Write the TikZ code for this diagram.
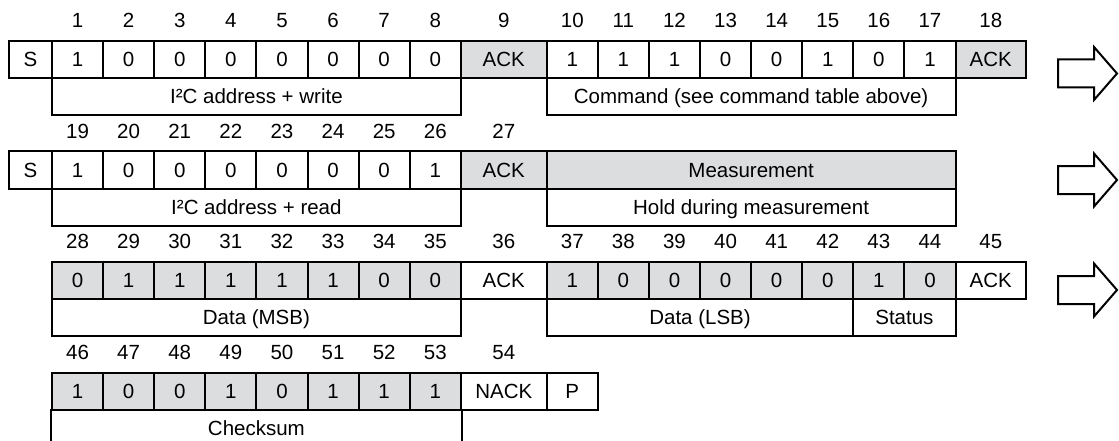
\documentclass[tikz,border=0pt]{standalone}
\usepackage{fontspec}
\setmainfont{Liberation Sans}
\definecolor{cellgray}{HTML}{DCDDDF}
\newcommand\bitcells[5]{% #1 first index, #2 x0, #3 top y, #4 extra style, #5 values
  \foreach \v [count=\k from 0] in {#5} {
    \pgfmathtruncatemacro\idx{#1+\k}
    \node[box, bitw, #4] (c\idx) at ({#2+\k*51.1},#3) {\v};
    \node[num] (n\idx) at ([yshift=19.5pt]c\idx.north) {\idx};
  }}
\begin{document}
\begin{tikzpicture}[x=1pt,y=-1pt,
  txt/.style={font=\fontsize{20.5}{24}\selectfont, text height=14.6pt, text depth=0pt},
  box/.style={draw, line width=2pt, anchor=north west, inner sep=0pt, minimum height=37pt, txt},
  bitw/.style={minimum width=51.1pt},
  ackw/.style={minimum width=85.9pt},
  shaded/.style={fill=cellgray},
  num/.style={inner sep=0pt, txt},
  bigarrow/.style={draw, line width=2pt, line join=miter}]
\useasboundingbox (0,0) rectangle (1119,441);

% ---------- Row 1 ----------
\node[box, minimum width=43pt] (s1) at (8,40) {S};
\bitcells{1}{51}{40}{}{1,0,0,0,0,0,0,0}
\node[box, ackw, shaded] (ack9) at (459.8,40) {ACK};
\node[num] (n9) at ([yshift=19.5pt]ack9.north) {9};
\bitcells{10}{545.7}{40}{}{1,1,1,0,0,1,0,1}
\node[box, minimum width=70.5pt, shaded] (ack18) at (954.5,40) {ACK};
\node[num] (n18) at ([yshift=19.5pt]ack18.north) {18};
\node[box, minimum width=408.8pt] (lw) at (51,77) {I²C address + write};
\node[box, minimum width=408.8pt] (lcmd) at (545.7,77) {Command (see command table above)};

% ---------- Row 2 ----------
\node[box, minimum width=43pt] (s2) at (8,150.5) {S};
\bitcells{19}{51}{150.5}{}{1,0,0,0,0,0,0,1}
\node[box, ackw, shaded] (ack27) at (459.8,150.5) {ACK};
\node[num] (n27) at ([yshift=19.5pt]ack27.north) {27};
\node[box, minimum width=408.8pt, shaded] (meas) at (545.7,150.5) {Measurement};
\node[box, minimum width=408.8pt] (lr) at (51,187.5) {I²C address + read};
\node[box, minimum width=408.8pt] (lhold) at (545.7,187.5) {Hold during measurement};

% ---------- Row 3 ----------
\bitcells{28}{51}{261}{shaded}{0,1,1,1,1,1,0,0}
\node[box, ackw] (ack36) at (459.8,261) {ACK};
\node[num] (n36) at ([yshift=19.5pt]ack36.north) {36};
\bitcells{37}{545.7}{261}{shaded}{1,0,0,0,0,0,1,0}
\node[box, minimum width=70.5pt] (ack45) at (954.5,261) {ACK};
\node[num] (n45) at ([yshift=19.5pt]ack45.north) {45};
\node[box, minimum width=408.8pt] (lmsb) at (51,298) {Data (MSB)};
\node[box, minimum width=306.6pt] (llsb) at (545.7,298) {Data (LSB)};
\node[box, minimum width=102.2pt] (lstat) at (852.3,298) {Status};

% ---------- Row 4 ----------
\bitcells{46}{51}{371.5}{shaded}{1,0,0,1,0,1,1,1}
\node[box, ackw] (nack54) at (459.8,371.5) {NACK};
\node[num] (n54) at ([yshift=19.5pt]nack54.north) {54};
\node[box, bitw] (pstop) at (545.7,371.5) {P};
\node[box, draw=none, minimum width=408.8pt] (cks) at (51,408.5) {Checksum};
\draw[line width=2pt] (cks.north west) -- ++(0,36);
\draw[line width=2pt] (cks.north east) -- ++(0,36);

% ---------- Arrows ----------
\foreach \c in {73.5,180,290} {
  \draw[bigarrow] (1058,\c-14) -- (1094,\c-14) -- (1094,\c-26.5) -- (1117,\c)
    -- (1094,\c+26.5) -- (1094,\c+14) -- (1058,\c+14) -- cycle;
}
\end{tikzpicture}
\end{document}
